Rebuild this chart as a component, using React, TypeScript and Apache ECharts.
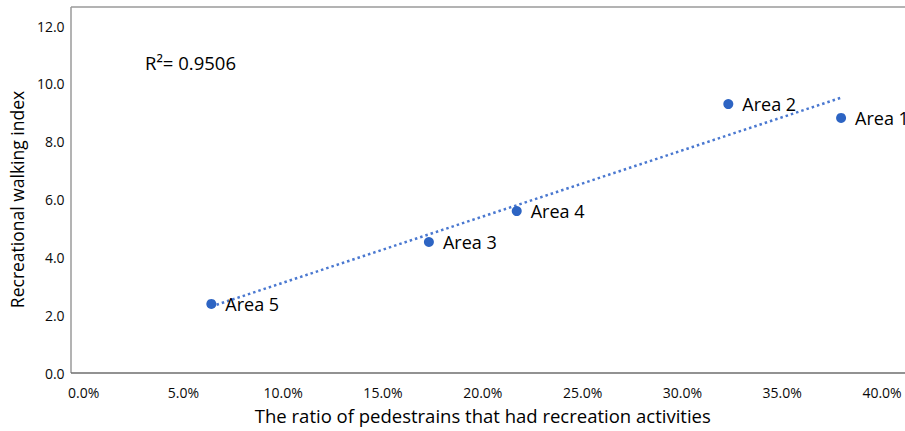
import React, { useEffect, useRef } from "react";
import * as echarts from "echarts";

const areaNames = ["Area 1", "Area 2", "Area 3", "Area 4", "Area 5"];
const ratioPct = [37.95, 32.3, 17.3, 21.7, 6.4];
const walkingIndex = [8.82, 9.3, 4.53, 5.6, 2.39];
const trendX = [6.4, 37.95];
const trendY = [2.3, 9.52];
const xTicks = [0, 5, 10, 15, 20, 25, 30, 35, 40];
const yTicks = [0, 2, 4, 6, 8, 10, 12];
const rSquaredText = "R\u00B2= 0.9506";

const FONT = "Open Sans";

export default function App() {
  const ref = useRef<HTMLDivElement>(null);
  useEffect(() => {
    document.body.style.margin = "0";
    const chart = echarts.init(ref.current!, null, { renderer: "svg" });
    const points = areaNames.map((n, i) => ({ name: n, value: [ratioPct[i], walkingIndex[i]] }));
    const trend = trendX.map((x, i) => [x, trendY[i]]);
    chart.setOption({
      animation: false,
      backgroundColor: "#ffffff",
      grid: { left: 82, right: 23, top: 26, bottom: 58 },
      xAxis: {
        type: "value",
        min: xTicks[0],
        max: xTicks[xTicks.length - 1],
        interval: 5,
        name: "The ratio of pedestrains that had recreation activities",
        nameLocation: "middle",
        nameGap: 33,
        nameTextStyle: { fontFamily: FONT, fontSize: 18.5, color: "#000" },
        axisLine: { show: false },
        axisTick: { show: false },
        splitLine: { show: false },
        axisLabel: {
          margin: 12,
          fontFamily: FONT,
          fontSize: 14,
          color: "#0a0a0a",
          formatter: (v: number) => v.toFixed(1) + "%",
        },
      },
      yAxis: {
        type: "value",
        min: yTicks[0],
        max: yTicks[yTicks.length - 1],
        interval: 2,
        name: "Recreational walking index",
        nameLocation: "middle",
        nameGap: 55,
        nameTextStyle: { fontFamily: FONT, fontSize: 17.5, color: "#000" },
        axisLine: { show: false },
        axisTick: { show: false },
        splitLine: { show: false },
        axisLabel: {
          margin: 19,
          fontFamily: FONT,
          fontSize: 14,
          color: "#0a0a0a",
          formatter: (v: number) => v.toFixed(1),
        },
      },
      graphic: [
        { type: "line", shape: { x1: 71, y1: 7, x2: 910, y2: 7 }, style: { stroke: "#9a9a9a", lineWidth: 1.5 }, silent: true },
        { type: "line", shape: { x1: 71, y1: 7, x2: 71, y2: 373 }, style: { stroke: "#9a9a9a", lineWidth: 1.5 }, silent: true },
        { type: "line", shape: { x1: 71, y1: 373, x2: 910, y2: 373 }, style: { stroke: "#6e6e6e", lineWidth: 1.5 }, silent: true },
        {
          type: "text",
          left: 145,
          top: 53,
          style: { text: rSquaredText, fontFamily: FONT, fontSize: 18.5, fill: "#000" },
        },
      ],
      series: [
        {
          type: "line",
          data: trend,
          symbol: "none",
          lineStyle: { color: "#4a78d0", width: 2.5, type: [2.5, 3] },
          z: 1,
        },
        {
          type: "scatter",
          data: points,
          symbol: "circle",
          symbolSize: 10,
          itemStyle: { color: "#2d64c3", opacity: 1 },
          label: {
            show: true,
            position: "right",
            distance: 9,
            formatter: (p: any) => p.name,
            fontFamily: FONT,
            fontSize: 18,
            color: "#000",
          },
          z: 3,
        },
      ],
    });
    return () => chart.dispose();
  }, []);
  return <div ref={ref} style={{ width: 905, height: 431, position: "absolute", left: 0, top: 0 }} />;
}
